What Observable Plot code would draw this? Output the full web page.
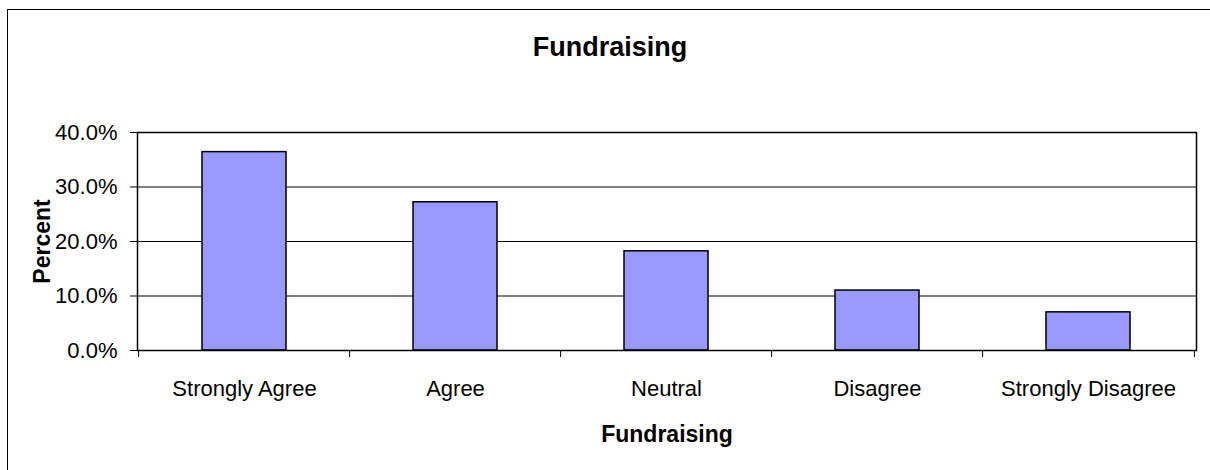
<!DOCTYPE html>
<html><head><meta charset="utf-8">
<script src="https://cdn.jsdelivr.net/npm/d3@7"></script>
<script src="https://cdn.jsdelivr.net/npm/@observablehq/plot@0.6"></script>
<style>
body{margin:0;background:#fff;font-family:"Liberation Sans",Arial,sans-serif;}
#wrap{position:relative;width:1210px;height:470px;overflow:hidden;background:#fff;}
#chart{position:absolute;left:0;top:0;}
#title{position:absolute;left:7px;width:1206px;top:34px;line-height:27px;font-size:27px;font-weight:bold;text-align:center;color:#000;}
#box{position:absolute;left:7px;top:9px;width:1300px;height:600px;border:1.5px solid #000;pointer-events:none;}
</style></head><body>
<div id="wrap"><div id="chart"></div><div id="title"></div><div id="box"></div></div>
<script>
const categories = ["Strongly Agree", "Agree", "Neutral", "Disagree", "Strongly Disagree"];
const percents = [0.364, 0.272, 0.182, 0.110, 0.070];
const yTicks = [0, 0.1, 0.2, 0.3, 0.4];
const chartTitle = "Fundraising";
const xLabel = "Fundraising";
const yLabel = "Percent";

document.getElementById("title").textContent = chartTitle;

const data = categories.map((c, i) => ({category: c, value: percents[i]}));
const W = 1210, H = 470, mL = 137, mR = 14, mT = 132, mB = 120;
const pIn = 0.6, pOut = 0.3;
const step = (W - mL - mR) / (categories.length - pIn + 2 * pOut);
const font = "'Liberation Sans', Arial, sans-serif";

const chart = Plot.plot({
  width: W, height: H,
  marginLeft: mL, marginRight: mR, marginTop: mT, marginBottom: mB,
  style: {fontFamily: font, fontSize: "22px", color: "#000", background: "transparent"},
  x: {type: "band", domain: categories, paddingInner: pIn, paddingOuter: pOut, label: null},
  y: {domain: [0, 0.4], label: null},
  marks: [
    Plot.gridY(yTicks, {stroke: "#000", strokeOpacity: 1, strokeWidth: 1}),
    Plot.barY(data, {x: "category", y: "value", fill: "#9999ff", stroke: "#000", strokeWidth: 1.5}),
    Plot.frame({stroke: "#000", strokeWidth: 1.5}),
    Plot.axisY({ticks: yTicks, tickFormat: d3.format(".1%"), tickSize: 7, tickPadding: 13, label: null, fontSize: 22}),
    Plot.axisX({tickSize: 0, tickPadding: 30, label: null, fontSize: 22}),
    Plot.axisX({tickSize: 7, tickFormat: () => "", label: null, dx: -step / 2}),
    Plot.axisX({ticks: [categories[categories.length - 1]], tickSize: 7, tickFormat: () => "", label: null, dx: step / 2}),
    Plot.text([xLabel], {frameAnchor: "bottom", lineAnchor: "middle", textAnchor: "middle", dy: 84, fontWeight: "bold", fontSize: 23, fill: "#000"}),
    Plot.text([yLabel], {frameAnchor: "left", lineAnchor: "middle", textAnchor: "middle", dx: -95, rotate: -90, fontWeight: "bold", fontSize: 23, fill: "#000"})
  ]
});
document.getElementById("chart").appendChild(chart);
</script>
</body></html>
